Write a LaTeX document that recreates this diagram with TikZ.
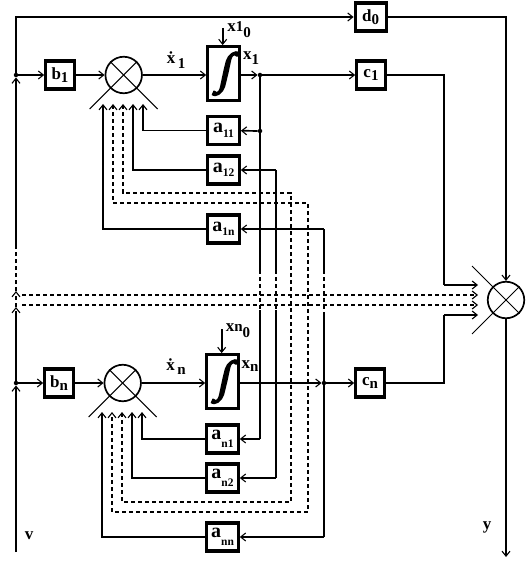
\documentclass[tikz,border=0pt]{standalone}
\usepackage{fontspec}
\setmainfont{Liberation Serif}
\newfontfamily\intfont[FakeBold=4,FakeSlant=0.22]{Liberation Serif}
\usetikzlibrary{arrows.meta}
\newcommand\bigt{\fontsize{17}{17}\selectfont\bfseries}
\newcommand\huget{\fontsize{20}{20}\selectfont\bfseries}
\newcommand\medt{\fontsize{15}{15}\selectfont\bfseries}
\newcommand\smat{\fontsize{11.5}{11.5}\selectfont\bfseries}
\newcommand\lblm[2]{{\bigt #1}\raisebox{-3.5pt}{\medt #2}}
\newcommand\lbls[2]{{\huget #1}\raisebox{-4.5pt}{\smat #2}}
\newcommand\lbln[2]{\raisebox{3pt}{\huget #1}\raisebox{-5pt}{\smat #2}}
\tikzset{
  barbtip/.tip={Straight Barb[length=5pt,width=8pt,line width=1.1pt]},
  conn/.style={line width=1.7pt,-barbtip},
  wire/.style={line width=1.7pt},
  dwire/.style={line width=1.7pt,dash pattern=on 4pt off 3pt},
  dconn/.style={dwire,-barbtip},
  ddconn/.style={dwire,barbtip-barbtip},
  block/.style={draw,line width=3.2pt,inner sep=0pt,minimum width=28.5pt,minimum height=28pt},
  gain/.style={block,minimum width=31.5pt},
  integ/.style={block,minimum width=31.5pt,minimum height=54pt},
  summer/.style={draw,circle,line width=1.7pt,inner sep=0pt,minimum size=36.5pt},
  thinl/.style={line width=1pt},
  dot/.style={circle,fill=black,inner sep=0pt,minimum size=4.5pt},
  lab/.style={inner sep=0pt}
}
\begin{document}
\begin{tikzpicture}[x=1pt,y=-1pt]
\useasboundingbox (0,0) rectangle (529,561);
% blocks
\node[block] (b1) at (60,75) {\lblm{b}{1}};
\node[block] (bn) at (59,383) {\lblm{b}{n}};
\node[summer] (s1) at (123.7,75) {};
\node[summer] (sn) at (122.7,383) {};
\node[summer] (so) at (506,300) {};
\node[integ] (i1) at (223.5,73.7) {\intfont\fontsize{44}{44}\selectfont ∫};
\node[integ] (in) at (222.5,381.7) {\intfont\fontsize{44}{44}\selectfont ∫};
\node[gain] (a11) at (223.5,130.5) {\lbls{a}{11}};
\node[gain] (a12) at (223.5,170) {\lbls{a}{12}};
\node[gain] (a1n) at (223.5,229) {\lbls{a}{1n}};
\node[gain] (an1) at (222.5,439) {\lbln{a}{n1}};
\node[gain] (an2) at (222.5,478) {\lbln{a}{n2}};
\node[gain] (ann) at (222.5,537) {\lbln{a}{nn}};
\node[gain,minimum width=31pt] (d0) at (370.7,17) {\lblm{d}{0}};
\node[block] (c1) at (371,75) {\lblm{c}{1}};
\node[block] (cn) at (370,383) {\lblm{c}{n}};
% junctions
\node[dot] (j1) at (16,75) {};
\node[dot] (jn) at (16,383) {};
\node[dot] (x1) at (260,75) {};
\node[dot] (x1b) at (260,131) {};
\node[dot] (xn) at (324,383) {};
% free ends and break points
\coordinate (v) at (16,552);
\coordinate (vt) at (16,17);
\coordinate (ya) at (506,557);
\coordinate (vb1) at (16,315);
\coordinate (vb2) at (16,307);
\coordinate (vb3) at (16,291);
\coordinate (vb4) at (16,245);
\coordinate (d1a) at (22,295);
\coordinate (d2a) at (22,305);
\coordinate (d1b) at (478,295);
\coordinate (d2b) at (478,305);
\coordinate (c1t) at (478,285);
\coordinate (cnt) at (478,315);
\coordinate (x10) at (222.7,28);
\coordinate (xn0) at (221.7,329);
% left bus
\draw[conn] (v) -- (jn);
\draw[wire] (jn) -- (vb1);
\draw[dconn] (vb1) -- (vb2);
\draw[dconn] (vb2) -- (vb3);
\draw[dwire] (vb3) -- (vb4);
\draw[conn] (vb4) -- (j1);
\draw[conn] (j1) -- (vt) -- (d0.west);
\draw[conn] (j1) -- (b1);
\draw[conn] (jn) -- (bn);
\draw[conn] (d0.east) -| (so.north);
% forward paths
\draw[conn] (b1) -- (s1);
\draw[conn] (bn) -- (sn);
\draw[conn] (s1) -- (s1 -| i1.west);
\draw[conn] (sn) -- (sn -| in.west);
\draw[conn] (x1 -| i1.east) -- (x1);
\draw[conn] (x1) -- (c1);
\draw[conn] (xn -| in.east) -- (xn);
\draw[conn] (xn) -- (cn);
\draw[conn] (x10) -- (x10 |- i1.north);
\draw[conn] (xn0) -- (xn0 |- in.north);
\draw[wire] (c1.east) -- (444,75) -- (444,285);
\draw[conn] (444,285) -- (c1t);
\draw[wire] (cn.east) -- (444,383) -- (444,315);
\draw[conn] (444,315) -- (cnt);
\draw[conn] (so.south) -- (ya);
% summer crosses
\draw[thinl] (s1.north west) -- ++(47.5,47.5);
\draw[thinl] (s1.north east) -- ++(-47.5,47.5);
\draw[thinl] (sn.north west) -- ++(47.5,47.5);
\draw[thinl] (sn.north east) -- ++(-47.5,47.5);
\draw[thinl] (so.north east) -- ++(-47.5,47.5);
\draw[thinl] (so.south east) -- ++(-47.5,-47.5);
% state feedback
\draw[conn] (x1b) -- (a11);
\draw[wire] (x1) -- (x1b) -- (260,270);
\draw[dwire] (260,270) -- (260,310);
\draw[wire] (260,310) -- (260,439);
\draw[conn] (260,439) -- (an1);
\draw[conn] (276,170) -- (a12);
\draw[wire] (276,170) -- (276,270);
\draw[dwire] (276,270) -- (276,310);
\draw[wire] (276,310) -- (276,478);
\draw[conn] (276,478) -- (an2);
\draw[conn] (324,229) -- (a1n);
\draw[wire] (324,229) -- (324,270);
\draw[dwire] (324,270) -- (324,315);
\draw[wire] (324,315) -- (xn);
\draw[wire] (xn) -- (324,537);
\draw[conn] (324,537) -- (ann);
% gains to summers
\draw[conn] (a11.west) -| (143,104);
\draw[conn] (a12.west) -| (133,104);
\draw[conn] (a1n.west) -| (103,104);
\draw[conn] (an1.west) -| (142,412);
\draw[conn] (an2.west) -| (132,412);
\draw[conn] (ann.west) -| (102,412);
% dashed feedback
\draw[ddconn] (123,104) -- (123,193) -- (291,193) -- (291,502) -- (122,502) -- (122,412);
\draw[ddconn] (113,104) -- (113,203) -- (308,203) -- (308,512) -- (112,512) -- (112,412);
% dashed output lines
\draw[dconn] (d1a) -- (d1b);
\draw[dconn] (d2a) -- (d2b);
% labels
\node[lab] (ld1) at (176,60) {{\bigt\.x}\raisebox{-5pt}{\medt\,1}};
\node[lab] (ldn) at (176,367) {{\bigt\.x}\raisebox{-4pt}{\medt\,n}};
\node[lab] (lx1) at (251,58) {\lblm{x}{\raisebox{-1pt}{1}}};
\node[lab] (lxn) at (250,366) {\lblm{x}{\raisebox{0pt}{n}}};
\node[lab] (lx10) at (239,30) {{\bigt x}{\medt 1}\raisebox{-6pt}{\medt 0}};
\node[lab] (lxn0) at (238,331) {{\bigt x}{\medt n}\raisebox{-6pt}{\medt 0}};
\node[lab] (lv) at (29,536) {\bigt v};
\node[lab] (ly) at (487,527) {\bigt y};
\end{tikzpicture}
\end{document}
